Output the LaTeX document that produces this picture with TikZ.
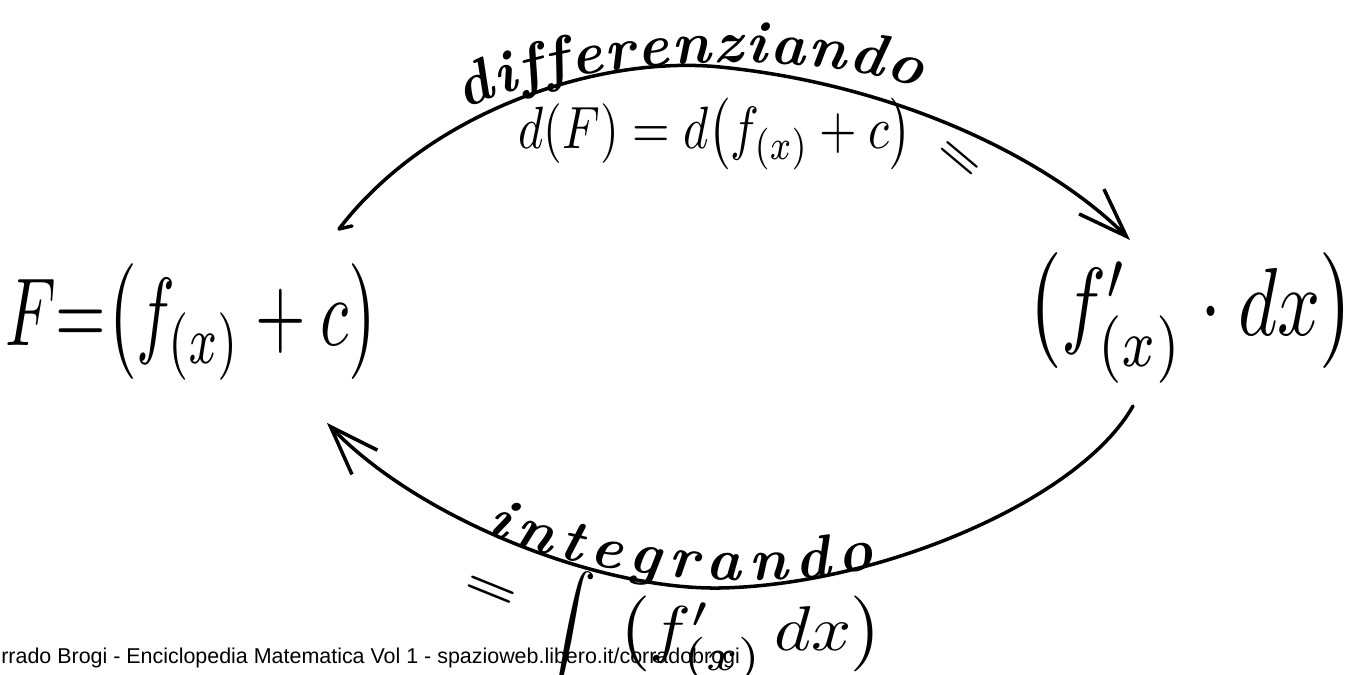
\documentclass[tikz,border=0pt]{standalone}
\usepackage{fontspec}
\newfontfamily\footfont{Liberation Sans}
\usetikzlibrary{arrows.meta,decorations.text}
\begin{document}
\begin{tikzpicture}[x=0.02cm,y=-0.02cm,line cap=round,line join=round,
  arcline/.style={line width=2pt},
  barb/.style={-{Straight Barb[length=28pt,width=20pt,line width=2pt]}},
  hand/.style={inner sep=0pt,outer sep=0pt},
  foot/.style={inner sep=0pt,anchor=base west,font=\footfont\fontsize{12.2}{14}\selectfont}]
\clip (0,0) rectangle (1356,675);
\fill[white] (0,0) rectangle (1356,675);

% main expressions
\node[hand] (lhs) at (192,322) {\scalebox{3.7}[5.5]{$F{=}\bigl(f_{(x)}+c\bigr)$}};
\node[hand] (rhs) at (1191,318) {\scalebox{4.3}[5.5]{$\bigl(f'_{(x)}\cdot dx\bigr)$}};

% labels
\node[hand] (dlbl) at (715,134) {\scalebox{2.75}[3.4]{$d(F)=d\bigl(f_{(x)}+c\bigr)$}};
\node[hand,anchor=base west] (ilbl) at (540,650)
  {\scalebox{3.2}[3.3]{$\displaystyle\int$}\hspace{12pt}\scalebox{4}[3.6]{$\bigl(f'_{(x)}\,dx\bigr)$}};
\node[hand,rotate=-40] (eqa) at (958,160) {\scalebox{3}[2.2]{\bfseries =}};
\node[hand,rotate=-22] (eqb) at (490,592) {\scalebox{3.4}[2.4]{\bfseries =}};

% arcs
\coordinate (th) at (352,226);
\coordinate (ts) at (339,229);
\coordinate (tp) at (720,67);
\coordinate (te) at (1130,240);
\draw[arcline,barb] (th) -- (ts) .. controls (430,110) and (600,55) .. (tp)
   .. controls (900,85) and (1050,160) .. (te);

\coordinate (bs) at (1133,406);
\coordinate (bm) at (720,588);
\coordinate (be) at (327,423);
\draw[arcline,barb] (bs) .. controls (1080,500) and (880,585) .. (bm)
   .. controls (600,590) and (420,520) .. (be);

% texts along the arcs
\path[decorate,decoration={text along path,text align={fit to path},
  text={|\bfseries\itshape\fontsize{34}{34}\selectfont|differenziando}}]
  (465,110) .. controls (560,60) and (800,45) .. (918,88);
\path[decorate,decoration={text along path,text align={fit to path},
  text={|\bfseries\itshape\fontsize{34}{34}\selectfont|integrando}}]
  (485,532) .. controls (580,577) and (760,595) .. (875,568);

% footer
\node[foot] (credit) at (1,663) {rrado Brogi - Enciclopedia Matematica Vol 1 - spazioweb.libero.it/corradobrogi};
\end{tikzpicture}
\end{document}
